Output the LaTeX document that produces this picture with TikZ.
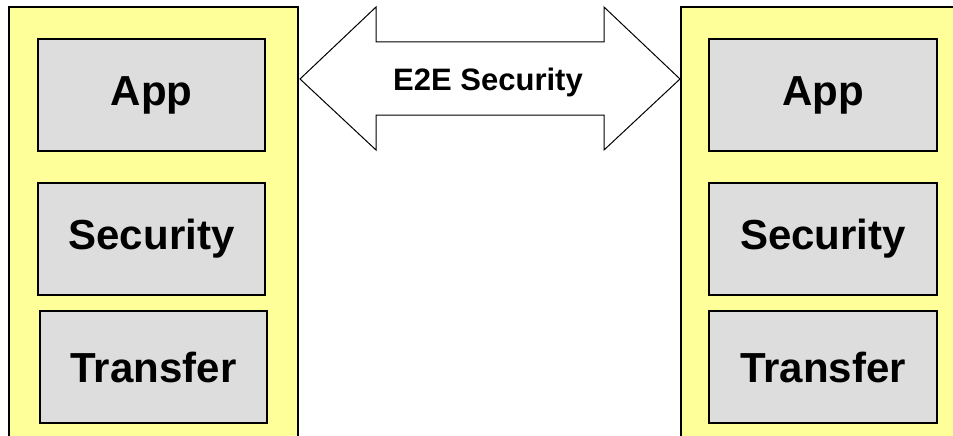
\documentclass[tikz,border=0pt]{standalone}
\usepackage{fontspec}
\setmainfont{Liberation Sans}
\begin{document}
\begin{tikzpicture}[x=1pt,y=-1pt,
  stack/.style={draw=black,line width=1.3pt,fill=yellowfill,minimum width=289pt,minimum height=439pt,inner sep=0pt},
  layer/.style={draw=black,line width=1.6pt,fill=grayfill,minimum width=227pt,minimum height=112pt,inner sep=0pt,
    font=\fontsize{42}{48}\selectfont\bfseries},
  arrowshape/.style={draw=black,line width=1pt,fill=white},
]
\definecolor{yellowfill}{HTML}{FFFF99}
\definecolor{grayfill}{HTML}{DDDDDD}
\useasboundingbox (0,0) rectangle (953,436);
\clip (0,0) rectangle (953,436);
% two protocol stacks (the right one runs past the page edge)
\node[stack] (lstack) at (153.5,226.5) {};
\node[stack,minimum width=340pt] (rstack) at (851,226.5) {};
% layers of the left stack
\node[layer] (lapp) at (151.5,95) {App};
\node[layer] (lsec) at (151.5,239) {Security};
\node[layer] (ltra) at (153.5,367) {Transfer};
% layers of the right stack
\node[layer,minimum width=228pt] (rapp) at (823,95) {App};
\node[layer,minimum width=228pt] (rsec) at (823,239) {Security};
\node[layer,minimum width=228pt] (rtra) at (823,367) {Transfer};
% end-to-end double arrow between the stacks
\draw[arrowshape] (300,79) -- (376,7) -- (376,42) -- (604,42) -- (604,7) -- (680,79)
  -- (604,150) -- (604,115) -- (376,115) -- (376,150) -- cycle;
\node[font=\fontsize{31}{36}\selectfont\bfseries] (e2e) at (488,82) {E2E Security};
\end{tikzpicture}
\end{document}
